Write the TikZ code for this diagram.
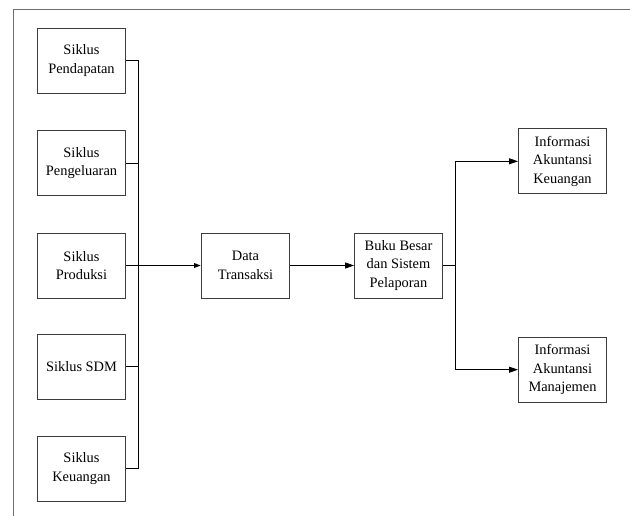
\documentclass[tikz,border=0pt]{standalone}
\usepackage{fontspec}
\setmainfont{Liberation Serif}
\usetikzlibrary{arrows.meta}
\definecolor{ln}{RGB}{60,60,60}
\definecolor{fr}{RGB}{110,110,110}
\tikzset{
  box/.style={draw=ln, line width=0.9pt, rectangle, minimum width=88pt, minimum height=65pt,
    inner sep=0pt, align=center, font=\fontsize{14.4}{18.3}\selectfont},
  conn/.style={draw=black, line width=0.8pt},
  arr/.style={conn, -{Triangle[length=9pt,width=6pt]}},
  boldarr/.style={draw=black, line width=1.8pt, -{Triangle[length=7pt,width=4.5pt]}},
  framel/.style={draw=fr, line width=1pt}
}
\begin{document}
\begin{tikzpicture}[x=1pt,y=-1pt]
\useasboundingbox (0,0) rectangle (630,516);
% frame
\coordinate (fTL) at (13,9.5);
\coordinate (fTR) at (630,9.5);
\coordinate (fBL) at (13,516);
\draw[framel] (fTR) -- (fTL) -- (fBL);
% left column
\node[box] (s1) at (81.5,60.5) {Siklus\\Pendapatan};
\node[box] (s2) at (81.5,163) {Siklus\\Pengeluaran};
\node[box] (s3) at (81.5,265.5) {Siklus\\Produksi};
\node[box] (s4) at (81.5,366.5) {Siklus SDM};
\node[box] (s5) at (81.5,468.5) {Siklus\\Keuangan};
% middle
\node[box] (data) at (245.5,265.5) {Data\\Transaksi};
\node[box] (buku) at (398.5,265.5) {Buku Besar\\dan Sistem\\Pelaporan};
% right
\node[box] (ik) at (562.5,161.3) {Informasi\\Akuntansi\\Keuangan};
\node[box] (im) at (562.5,369.7) {Informasi\\Akuntansi\\Manajemen};
% bus
\coordinate (busT) at (138.3,60.5);
\coordinate (busB) at (138.3,468.5);
\draw[conn] (s1.east) -- (busT) -- (busB) -- (s5.east);
\draw[conn] (s2.east) -- (s2.east -| busT);
\draw[conn] (s3.east) -- (s3.east -| busT);
\draw[conn] (s4.east) -- (s4.east -| busT);
\draw[boldarr] (s3.east -| busT) -- (data.west);
\draw[arr] (data.east) -- (buku.west);
% split
\coordinate (sp) at (455.3,265.5);
\draw[conn] (buku.east) -- (sp);
\draw[arr] (sp) |- (ik.west);
\draw[arr] (sp) |- (im.west);
\end{tikzpicture}
\end{document}
